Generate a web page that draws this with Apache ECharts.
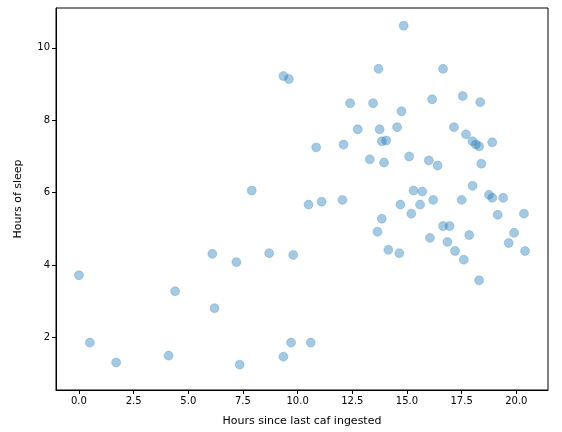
<!DOCTYPE html>
<html><head><meta charset="utf-8">
<script src="https://cdn.jsdelivr.net/npm/echarts@6/dist/echarts.min.js"></script>
<style>html,body{margin:0;padding:0;background:#fff}#c{width:562px;height:432px}</style>
</head><body><div id="c"></div>
<script>
const hours=[0.0,0.5,1.7,4.1,4.4,6.1,6.2,7.2,7.35,7.9,8.7,9.35,9.6,9.7,9.8,9.35,10.6,10.5,10.85,11.1,12.05,12.1,12.4,12.75,13.3,13.45,13.65,13.7,13.75,13.85,13.85,13.95,14.05,14.15,14.55,14.65,14.7,14.85,14.75,15.1,15.2,15.3,15.7,15.6,16.15,16.0,16.05,16.2,16.4,16.65,16.65,16.85,16.95,17.2,17.15,17.55,17.5,17.6,17.7,17.85,18.0,18.0,18.15,18.3,18.35,18.4,18.3,18.75,18.9,18.9,19.15,19.4,19.65,19.9,20.35,20.4];
const sleep=[3.72,1.86,1.31,1.5,3.28,4.31,2.81,4.08,1.25,6.06,4.33,9.22,9.14,1.86,4.28,1.47,1.86,5.67,7.25,5.75,5.8,7.33,8.47,7.75,6.92,8.47,4.92,9.42,7.75,5.28,7.42,6.83,7.44,4.42,7.81,4.33,5.67,10.61,8.25,7.0,5.42,6.06,6.03,5.67,8.58,6.89,4.75,5.8,6.75,9.42,5.08,4.64,5.08,4.39,7.81,8.67,5.8,4.15,7.61,4.83,6.19,7.42,7.33,7.28,8.5,6.8,3.58,5.94,7.39,5.86,5.39,5.86,4.61,4.89,5.42,4.39];
const xTicks=[0,2.5,5,7.5,10,12.5,15,17.5,20];
const yTicks=[2,4,6,8,10];
const pts=hours.map((h,i)=>[h,sleep[i]]);
const ax={fontFamily:'DejaVu Sans',fontSize:10,color:'#000'};
const chart=echarts.init(document.getElementById('c'));
chart.setOption({
 animation:false,
 grid:{left:56,right:14,top:8,bottom:42,show:true,borderColor:'#000',borderWidth:1},
 xAxis:{type:'value',min:-1.05,max:21.45,name:'Hours since last caf ingested',nameLocation:'middle',nameGap:26,
  nameTextStyle:{fontFamily:'DejaVu Sans',fontSize:11,color:'#000'},
  axisLine:{show:true,onZero:false,lineStyle:{color:'#000'}},splitLine:{show:false},
  axisTick:{show:true,customValues:xTicks,length:4,lineStyle:{color:'#000'}},
  axisLabel:{...ax,customValues:xTicks,formatter:v=>v.toFixed(1),margin:6}},
 yAxis:{type:'value',min:0.55,max:11.1,name:'Hours of sleep',nameLocation:'middle',nameGap:32,
  nameTextStyle:{fontFamily:'DejaVu Sans',fontSize:11,color:'#000'},
  axisLine:{show:true,onZero:false,lineStyle:{color:'#000'}},splitLine:{show:false},
  axisTick:{show:true,customValues:yTicks,length:4,lineStyle:{color:'#000'}},
  axisLabel:{...ax,customValues:yTicks,margin:6}},
 series:[{type:'scatter',data:pts,symbolSize:9,itemStyle:{color:'rgba(31,119,180,0.5)',borderColor:'rgba(31,119,180,0.6)',borderWidth:0.5}}]
});
</script></body></html>
